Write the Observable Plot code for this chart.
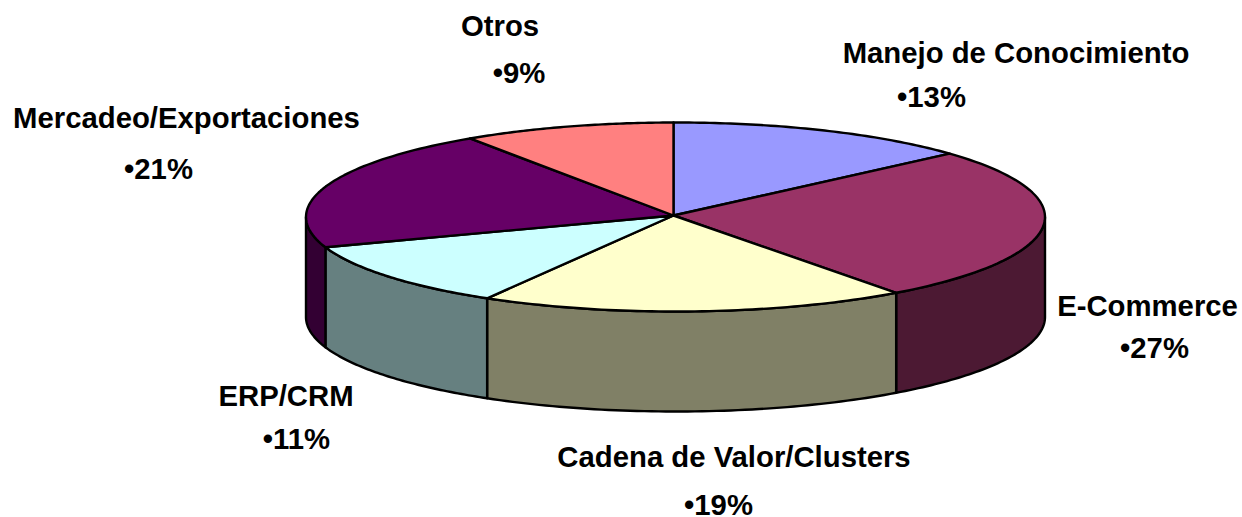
<!DOCTYPE html>
<html><head><meta charset="utf-8">
<script src="https://cdn.jsdelivr.net/npm/d3@7"></script>
<script src="https://cdn.jsdelivr.net/npm/@observablehq/plot@0.6"></script>
<style>html,body{margin:0;padding:0;background:#fff}svg{display:block}</style>
</head><body><div id="chart"></div>
<script>
const categories = ["Manejo de Conocimiento","E-Commerce","Cadena de Valor/Clusters","ERP/CRM","Mercadeo/Exportaciones","Otros"];
// the labels show them rounded
const shares = [13.4,26.5,18.7,11.3,20.8,9.3];
const topColors = ["#9999FF","#993366","#FFFFCC","#CCFFFF","#660066","#FF8080"];
const wallColors = ["#4C4C80","#4C1933","#808066","#668080","#330033","#804040"];
// label centres, page pixels
const nameX = [1015.5,1147,733.5,285.5,186,499.5];
const nameY = [53,306,457,396,118,26];
const pctX = [931,1154,718,296,158,518.5];
const pctY = [97,348,505,439,169,73];

const W=1242,H=517,cx=675,cy=216.5,rx=369.5,ry=94.5,depth=100,startAngle=-0.0054;
const depthU=depth/ry, apexX=(673-cx)/rx, apexY=(cy-215)/ry;
const toX=px=>(px-cx)/rx, toY=py=>(cy-py)/ry;
let cum=0;
const slices=categories.map((c,i)=>{const a0=startAngle+cum/100*2*Math.PI;cum+=shares[i];const a1=startAngle+cum/100*2*Math.PI;return {c,i,a0,a1,share:shares[i]};});
const rim=a=>[Math.sin(a),Math.cos(a)];
const arc=(a0,a1)=>d3.range(0,61).map(k=>rim(a0+(a1-a0)*k/60));

const topRows=[],wallRows=[];
for(const s of slices){
  const pts=[[apexX,apexY],...arc(s.a0,s.a1),[apexX,apexY]];
  pts.forEach(([x,y])=>topRows.push({x,y,key:s.c,color:topColors[s.i]}));
  const lo=Math.max(s.a0,Math.PI/2),hi=Math.min(s.a1,3*Math.PI/2);
  if(hi>lo){
    const a=arc(lo,hi);
    const poly=[...a,...a.slice().reverse().map(([x,y])=>[x,y-depthU]),a[0]];
    poly.forEach(([x,y])=>wallRows.push({x,y,key:s.c,color:wallColors[s.i]}));
  }
}
const nameRows=slices.map((s,i)=>({x:toX(nameX[i]),y:toY(nameY[i]),t:s.c}));
const pctRows=slices.map((s,i)=>({x:toX(pctX[i]),y:toY(pctY[i]),t:"•"+Math.round(s.share)+"%"}));

const line=rows=>Plot.line(rows,{x:"x",y:"y",z:"key",fill:"color",stroke:"#000",strokeWidth:2.4,curve:"linear",strokeLinejoin:"round"});
const textStyle={x:"x",y:"y",text:"t",fontFamily:"'Liberation Sans',Arial,sans-serif",fontWeight:"bold",fontSize:29.3,fill:"#000",textAnchor:"middle",lineAnchor:"middle"};

const chart=Plot.plot({
  width:W,height:H,margin:0,
  x:{domain:[-1,1],range:[cx-rx,cx+rx],axis:null},
  y:{domain:[-1,1],range:[cy+ry,cy-ry],axis:null},
  marks:[
    line(wallRows),
    line(topRows),
    Plot.text(nameRows,textStyle),
    Plot.text(pctRows,textStyle)
  ]
});
document.getElementById("chart").append(chart);
</script></body></html>
